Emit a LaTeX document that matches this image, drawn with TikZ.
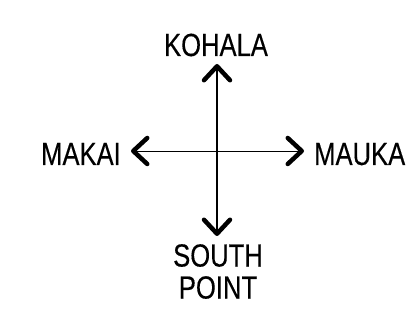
\documentclass[tikz,border=0pt]{standalone}
\usepackage{fontspec}
\setmainfont{Liberation Sans}[FakeStretch=0.8,FakeBold=0.3]
\usetikzlibrary{arrows.meta}

\begin{document}
\begin{tikzpicture}[x=1pt,y=-1pt,
    dirlabel/.style={inner sep=0pt,font=\fontsize{32}{32}\selectfont},
    barb/.tip={Straight Barb[length=14pt,width=26pt,line width=4.5pt,round]},
    compass/.style={black,barb-barb}]
  \useasboundingbox (0,0) rectangle (416,326);
  \coordinate (north) at (217,64);
  \coordinate (south) at (217,236);
  \coordinate (west) at (131,151);
  \coordinate (east) at (304,151);
  \draw[compass,line width=1.4pt] (north) -- (south);
  \draw[compass,line width=0.9pt] (west) -- (east);
  \node[dirlabel,anchor=base] (kohala) at (216,56) {KOHALA};
  \node[dirlabel,anchor=base east] (makai) at (121,165) {MAKAI};
  \node[dirlabel,anchor=base west] (mauka) at (314,165) {MAUKA};
  \node[dirlabel,anchor=north,align=center] (southpoint) at (218,244) {SOUTH\\POINT};
\end{tikzpicture}
\end{document}
